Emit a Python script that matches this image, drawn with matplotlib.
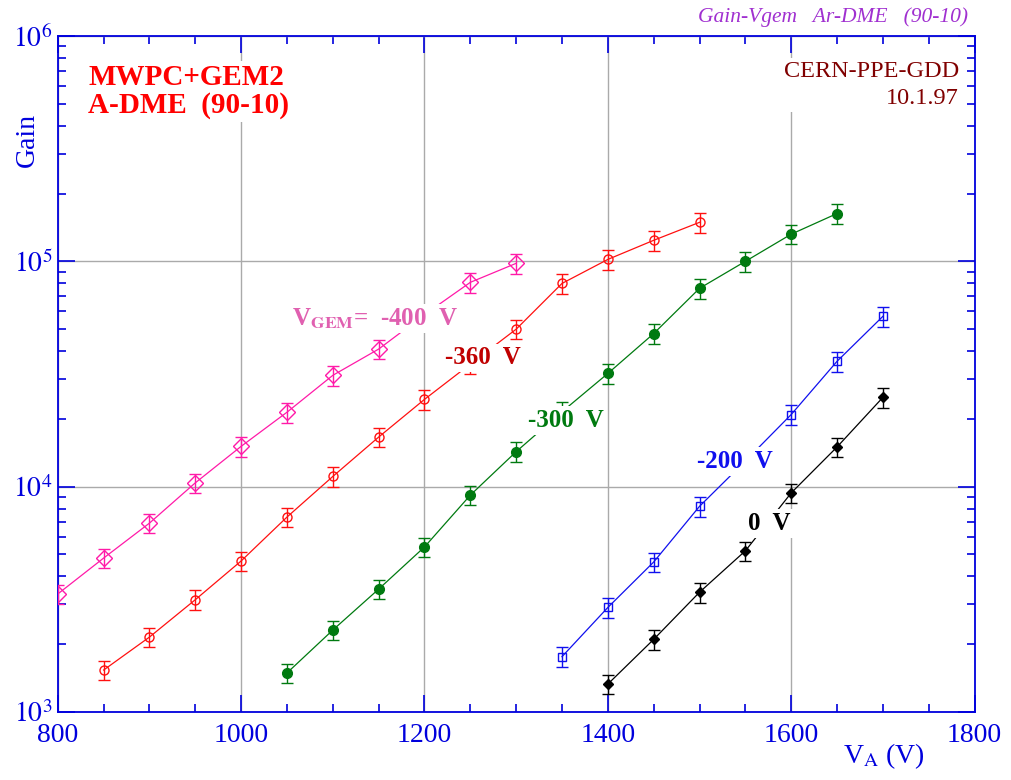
import math

import matplotlib

matplotlib.use("Agg")
import matplotlib.pyplot as plt
from matplotlib.ticker import FixedLocator, LogLocator, NullFormatter, FuncFormatter

plt.rcParams["font.family"] = ["Liberation Serif", "DejaVu Serif"]
plt.rcParams["mathtext.fontset"] = "stix"

# --- data (anode voltage V_A in volts, gain) ---
v_400 = [800, 850, 900, 950, 1000, 1050, 1100, 1150, 1200, 1250, 1300]
g_400 = [3340, 4820, 6890, 10400, 15100, 21400, 31200, 40800, 58000, 80700, 98000]

v_360 = [850, 900, 950, 1000, 1050, 1100, 1150, 1200, 1250, 1300, 1350, 1400, 1450, 1500]
g_360 = [1535, 2150, 3150, 4680, 7330, 11100, 16600, 24400, 35000, 50000, 79800,
         102000, 124000, 149000]

v_300 = [1050, 1100, 1150, 1200, 1250, 1300, 1350, 1400, 1450, 1500, 1550, 1600, 1650]
g_300 = [1490, 2310, 3510, 5400, 9170, 14300, 21500, 31800, 47800, 75900, 100000,
         132000, 163000]

v_200 = [1350, 1400, 1450, 1500, 1550, 1600, 1650, 1700]
g_200 = [1760, 2910, 4630, 8180, 13000, 20900, 36000, 57000]

v_0 = [1400, 1450, 1500, 1550, 1600, 1650, 1700]
g_0 = [1330, 2100, 3400, 5190, 9380, 15000, 24900]

err_frac = 0.10  # relative error on gain

x_ticks = [800, 1000, 1200, 1400, 1600, 1800]
y_ticks = [1e3, 1e4, 1e5, 1e6]

BLUE = "#0000DD"

fig = plt.figure(figsize=(10.12, 7.8), dpi=100)
ax = fig.add_axes([0.0571, 0.0872, 0.9059, 0.8666])

series = [
    (v_400, g_400, "#FF1AA8", "D", 8, "none"),
    (v_360, g_360, "#FF1010", "o", 6.5, "none"),
    (v_300, g_300, "#007A10", "o", 7, "#007A10"),
    (v_200, g_200, "#1010EE", "s", 6, "none"),
    (v_0, g_0, "#000000", "D", 5.5, "#000000"),
]
for v, g, col, mk, ms, mfc in series:
    ax.errorbar(v, g, yerr=[gi * err_frac for gi in g], color=col, lw=0.9,
                marker=mk, ms=ms, mfc=mfc, mec=col, mew=1.0,
                elinewidth=1.0, capsize=4, capthick=1.0, zorder=3)

ax.set_yscale("log")
ax.set_xlim(800, 1800)
ax.set_ylim(1e3, 1e6)

ax.xaxis.set_major_locator(FixedLocator(x_ticks))
ax.xaxis.set_minor_locator(FixedLocator(list(range(800, 1801, 50))))
ax.yaxis.set_major_locator(FixedLocator(y_ticks))
ax.yaxis.set_minor_locator(LogLocator(base=10, subs=range(2, 10)))
ax.yaxis.set_minor_formatter(NullFormatter())
ax.yaxis.set_major_formatter(FuncFormatter(lambda y, p: r"$10^{%d}$" % round(math.log10(y))))

ax.tick_params(which="both", direction="in", top=True, right=True, colors=BLUE,
               labelsize=20, width=1.2)
ax.tick_params(which="major", length=12)
ax.tick_params(which="minor", length=6)
ax.tick_params(axis="x", pad=8)
ax.tick_params(axis="y", pad=4)
for sp in ax.spines.values():
    sp.set_color(BLUE)
    sp.set_linewidth(1.3)

ax.grid(True, which="major", color="#AAAAAA", lw=1.0, zorder=0)

# axis labels
ax.text(-0.033, 0.846, "Gain", transform=ax.transAxes, rotation=90, ha="center",
        va="center", fontsize=20, color=BLUE)
ax.text(0.901, -0.075, r"V$_{\rm A}$ (V)", transform=ax.transAxes, ha="center",
        va="baseline", fontsize=20, color=BLUE)

# header texts
box = dict(facecolor="white", edgecolor="none", pad=2)
fig.text(0.957, 0.972, "Gain-Vgem   Ar-DME   (90-10)", ha="right", va="baseline",
         fontsize=15.5, style="italic", color="#A030D0")
ax.text(0.033, 0.886, "MWPC+GEM2\nA-DME  (90-10)", transform=ax.transAxes,
        ha="left", va="baseline", fontsize=21, fontweight="bold", color="#FF0000",
        linespacing=1.05, bbox=box, zorder=4)
ax.text(0.983, 0.899, "CERN-PPE-GDD\n10.1.97", transform=ax.transAxes,
        ha="right", va="baseline", fontsize=17.5, color="#800000",
        linespacing=1.4, multialignment="right", bbox=box, zorder=4)

# series labels
lbl_box = dict(facecolor="white", edgecolor="none", pad=2)
ax.text(1056, 52000, r"V$_{\mathbf{GEM}}$=  -400  V", ha="left", va="baseline",
        fontsize=18, fontweight="bold", color="#E060B0", bbox=lbl_box, zorder=5)
ax.text(1222, 34900, "-360  V", ha="left", va="baseline", fontsize=18,
        fontweight="bold", color="#C00000", bbox=lbl_box, zorder=5)
ax.text(1313, 18400, "-300  V", ha="left", va="baseline", fontsize=18,
        fontweight="bold", color="#007A10", bbox=lbl_box, zorder=5)
ax.text(1497, 12100, "-200  V", ha="left", va="baseline", fontsize=18,
        fontweight="bold", color="#1010EE", bbox=lbl_box, zorder=5)
ax.text(1553, 6410, "0  V", ha="left", va="baseline", fontsize=18,
        fontweight="bold", color="#000000", bbox=lbl_box, zorder=5)

fig.savefig("out.png", dpi=100)
